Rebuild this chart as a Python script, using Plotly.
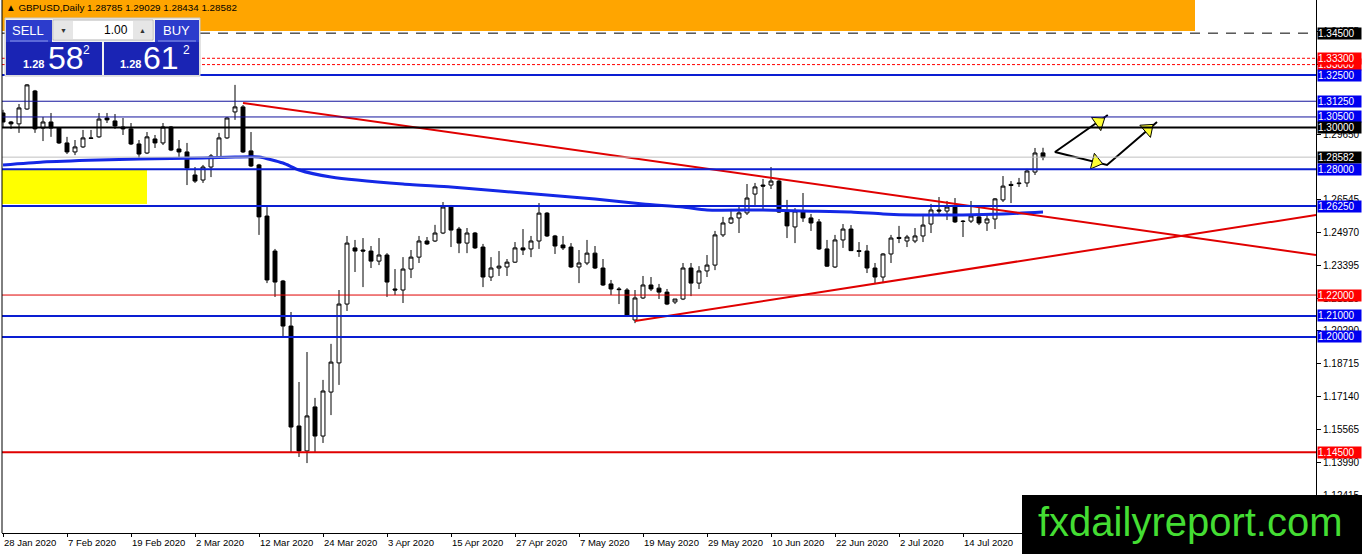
import pandas as pd
import plotly.graph_objects as go

# GBPUSD daily bars, 28 Jan 2020 .. 28 Jul 2020 (weekdays)
dates = pd.bdate_range("2020-01-28", "2020-07-28")
bars = list(range(len(dates)))

opens = [1.3069, 1.3026, 1.3017, 1.3088, 1.3174, 1.2997, 1.3026, 1.2997, 1.2926, 1.2883,
         1.2907, 1.2950, 1.2955, 1.3045, 1.3031, 1.3002, 1.2993, 1.2921, 1.2878, 1.2945,
         1.2926, 1.3002, 1.2897, 1.2883, 1.2773, 1.2749, 1.2811, 1.2859, 1.2950, 1.3074,
         1.3098, 1.2888, 1.2821, 1.2577, 1.2410, 1.2267, 1.2052, 1.1575, 1.1456, 1.1666,
         1.1527, 1.1737, 1.1876, 1.2157, 1.2425, 1.2415, 1.2410, 1.2362, 1.2391, 1.2229,
         1.2224, 1.2324, 1.2381, 1.2458, 1.2458, 1.2496, 1.2620, 1.2515, 1.2448, 1.2496,
         1.2429, 1.2286, 1.2329, 1.2334, 1.2357, 1.2425, 1.2420, 1.2458, 1.2591, 1.2482,
         1.2439, 1.2429, 1.2334, 1.2353, 1.2400, 1.2329, 1.2253, 1.2229, 1.2224, 1.2081,
         1.2186, 1.2248, 1.2233, 1.2214, 1.2167, 1.2181, 1.2329, 1.2257, 1.2315, 1.2343,
         1.2487, 1.2544, 1.2568, 1.2592, 1.2682, 1.2725, 1.2725, 1.2744, 1.2596, 1.2525,
         1.2601, 1.2568, 1.2549, 1.2420, 1.2334, 1.2463, 1.2515, 1.2412, 1.2410, 1.2329,
         1.2286, 1.2396, 1.2475, 1.2458, 1.2458, 1.2482, 1.2539, 1.2606, 1.2601, 1.2620,
         1.2553, 1.2553, 1.2573, 1.2544, 1.2563, 1.2654, 1.2728, 1.2735, 1.2735, 1.2787,
         1.28785]
highs = [1.3084, 1.3031, 1.3112, 1.3207, 1.3179, 1.3050, 1.3069, 1.3002, 1.2955, 1.2940,
         1.2988, 1.2988, 1.3069, 1.3069, 1.3064, 1.3045, 1.3021, 1.2940, 1.2978, 1.2964,
         1.3021, 1.3007, 1.2940, 1.2926, 1.2811, 1.2821, 1.2873, 1.2974, 1.3050, 1.3203,
         1.3107, 1.2978, 1.2826, 1.2620, 1.2420, 1.2272, 1.2119, 1.1785, 1.1928, 1.1709,
         1.1795, 1.1967, 1.2224, 1.2482, 1.2463, 1.2472, 1.2434, 1.2472, 1.2400, 1.2324,
         1.2381, 1.2415, 1.2482, 1.2477, 1.2535, 1.2644, 1.2630, 1.2525, 1.2520, 1.2501,
         1.2444, 1.2381, 1.2410, 1.2372, 1.2453, 1.2515, 1.2482, 1.2639, 1.2596, 1.2487,
         1.2482, 1.2448, 1.2415, 1.2463, 1.2434, 1.2372, 1.2272, 1.2238, 1.2233, 1.2224,
         1.2291, 1.2286, 1.2253, 1.2229, 1.2181, 1.2353, 1.2353, 1.2338, 1.2391, 1.2506,
         1.2573, 1.2611, 1.2620, 1.2730, 1.2735, 1.2754, 1.2811, 1.2749, 1.2654, 1.2615,
         1.2687, 1.2587, 1.2563, 1.2463, 1.2487, 1.2539, 1.2534, 1.2453, 1.2439, 1.2353,
         1.2400, 1.2487, 1.2530, 1.2487, 1.2520, 1.2587, 1.2635, 1.2668, 1.2649, 1.2663,
         1.2558, 1.2649, 1.2615, 1.2587, 1.2663, 1.2768, 1.2744, 1.2759, 1.2802, 1.2902,
         1.29029]
lows = [1.2998, 1.2993, 1.2974, 1.3084, 1.2974, 1.2935, 1.2955, 1.2921, 1.2873, 1.2868,
        1.2902, 1.2945, 1.2950, 1.3021, 1.2993, 1.2964, 1.2916, 1.2854, 1.2873, 1.2902,
        1.2916, 1.2887, 1.2854, 1.2725, 1.2735, 1.2735, 1.2763, 1.2854, 1.2945, 1.3036,
        1.2878, 1.2811, 1.2487, 1.2257, 1.2191, 1.2000, 1.1446, 1.1427, 1.1398, 1.1446,
        1.1494, 1.1627, 1.1771, 1.2124, 1.2310, 1.2238, 1.2329, 1.2343, 1.2191, 1.2200,
        1.2162, 1.2281, 1.2353, 1.2439, 1.2453, 1.2491, 1.2429, 1.2400, 1.2400, 1.2420,
        1.2238, 1.2267, 1.2291, 1.2291, 1.2353, 1.2391, 1.2381, 1.2420, 1.2477, 1.2396,
        1.2415, 1.2329, 1.2257, 1.2343, 1.2324, 1.2243, 1.2200, 1.2157, 1.2095, 1.2066,
        1.2181, 1.2219, 1.2181, 1.2152, 1.2157, 1.2176, 1.2195, 1.2229, 1.2286, 1.2319,
        1.2477, 1.2539, 1.2496, 1.2582, 1.2630, 1.2606, 1.2706, 1.2592, 1.2472, 1.2448,
        1.2549, 1.2506, 1.2415, 1.2334, 1.2329, 1.2425, 1.2410, 1.2382, 1.2305, 1.2257,
        1.2257, 1.2353, 1.2448, 1.2429, 1.2448, 1.2453, 1.2496, 1.2587, 1.2558, 1.2544,
        1.2477, 1.2544, 1.2534, 1.2506, 1.2515, 1.2644, 1.2639, 1.2716, 1.2716, 1.2773,
        1.28434]
closes = [1.3026, 1.3017, 1.3093, 1.3203, 1.2993, 1.3026, 1.2997, 1.2926, 1.2883, 1.2907,
          1.2950, 1.2948, 1.3040, 1.3036, 1.3007, 1.2993, 1.2921, 1.2873, 1.2955, 1.2926,
          1.3002, 1.2892, 1.2883, 1.2806, 1.2744, 1.2811, 1.2864, 1.2950, 1.3045, 1.3098,
          1.2883, 1.2816, 1.2573, 1.2272, 1.2262, 1.2052, 1.1570, 1.1456, 1.1623, 1.1527,
          1.1742, 1.1880, 1.2157, 1.2448, 1.2410, 1.2410, 1.2362, 1.2391, 1.2262, 1.2224,
          1.2324, 1.2381, 1.2458, 1.2444, 1.2496, 1.2620, 1.2510, 1.2448, 1.2496, 1.2425,
          1.2286, 1.2329, 1.2338, 1.2357, 1.2425, 1.2415, 1.2458, 1.2591, 1.2482, 1.2434,
          1.2425, 1.2334, 1.2353, 1.2400, 1.2329, 1.2248, 1.2229, 1.2226, 1.2100, 1.2186,
          1.2248, 1.2229, 1.2214, 1.2157, 1.2181, 1.2329, 1.2257, 1.2315, 1.2343, 1.2487,
          1.2544, 1.2568, 1.2592, 1.2663, 1.2716, 1.2720, 1.2744, 1.2596, 1.2530, 1.2601,
          1.2568, 1.2544, 1.2420, 1.2338, 1.2463, 1.2515, 1.2412, 1.2408, 1.2329, 1.2286,
          1.2396, 1.2472, 1.2470, 1.2477, 1.2482, 1.2534, 1.2606, 1.2601, 1.2620, 1.2549,
          1.2551, 1.2577, 1.2544, 1.2563, 1.2659, 1.2720, 1.2723, 1.2732, 1.2792, 1.2878,
          1.28582]

# moving average at some bars
ma_bars = [0, 5, 12, 17, 25, 29, 32, 35, 37, 41, 50, 56, 62, 68, 74, 80, 85, 88, 95,
           100, 106, 110, 114, 120, 125, 130]
ma_vals = [1.28207, 1.28350, 1.28446, 1.28493, 1.28541, 1.28589, 1.28589, 1.28302, 1.27968,
           1.27634, 1.27300, 1.27157, 1.26966, 1.26775, 1.26584, 1.26346, 1.26203, 1.26059,
           1.26059, 1.26012, 1.25964, 1.25869, 1.25821, 1.25821, 1.25869, 1.25964]

# horizontal levels drawn on the chart
level_prices = [1.3450, 1.3300, 1.3330, 1.3250, 1.3125, 1.3050, 1.3000, 1.2800, 1.2625,
                1.2200, 1.2100, 1.2000, 1.1450]
bid = 1.28582
title_ohlc = [1.28785, 1.29029, 1.28434, 1.28582]

# trend lines (bar, price)
trend_down = ([30, 164.125], [1.31166, 1.23911])
trend_up = ([79, 164.125], [1.20761, 1.25821])
# arrow drawing
arrow_x = [138.1, 131.5, 138.0, 144.25]
arrow_y = [1.30594, 1.28828, 1.28207, 1.30259]
head_x = [137.0, 136.6, 143.1]
head_y = [1.30259, 1.28350, 1.29925]
head_angle = [55, 104, 49]

# zones
yellow_zone = ([-0.125, 18], [1.26346, 1.27968])
orange_zone = ([-0.125, 149], [1.34603, 1.3608])

axis_ticks = [1.34575, 1.33000, 1.29650, 1.26545, 1.24970, 1.23395, 1.21820, 1.20290,
              1.18715, 1.17140, 1.15565, 1.13990, 1.12415]

# styles
FONT = "Liberation Sans"
BLUE = "#0a1ed2"
NAVY = "#14149c"
RED = "#e00000"
level_style = {
    1.3450: ("#000000", 1, "10px,8px", "#000000"),
    1.3330: ("#ff0000", 1, "3px,2px", "#ff0000"),
    1.3300: ("#ff0000", 1, "3px,2px", "#ff0000"),
    1.3250: (BLUE, 2, "solid", "#0000f0"),
    1.3125: (NAVY, 1, "solid", "#0000f0"),
    1.3050: (NAVY, 1, "solid", "#0000f0"),
    1.3000: ("#000000", 2, "solid", "#000000"),
    1.2800: (BLUE, 2, "solid", "#0000f0"),
    1.2625: (BLUE, 2, "solid", "#0000f0"),
    1.2200: (RED, 1, "solid", "#ff0000"),
    1.2100: (BLUE, 2, "solid", "#0000f0"),
    1.2000: (BLUE, 2, "solid", "#0000f0"),
    1.1450: (RED, 2, "solid", "#ff0000"),
}

W, H = 1362, 554
ML, MR, MT, MB = 2, 46, 0, 21
PW, PH = W - ML - MR, H - MT - MB


def fx(px):
    return (px - ML) / PW


def fy(py):
    return 1 - (py - MT) / PH


shapes = []
annotations = []


def prect(x0, y0, x1, y1, fill, line=None):
    shapes.append(dict(type="rect", xref="paper", yref="paper", x0=fx(x0), x1=fx(x1),
                       y0=fy(y1), y1=fy(y0), fillcolor=fill, layer="above",
                       line=dict(width=1 if line else 0, color=line or fill)))


def ptext(x, y, text, size, color, anchor="center", family=FONT):
    annotations.append(dict(xref="paper", yref="paper", x=fx(x), y=fy(y), text=text,
                            showarrow=False, xanchor=anchor, yanchor="middle",
                            font=dict(family=family, size=size, color=color)))


fig = go.Figure()

fig.add_trace(go.Candlestick(
    x=bars, open=opens, high=highs, low=lows, close=closes,
    increasing=dict(line=dict(color="black", width=1), fillcolor="white"),
    decreasing=dict(line=dict(color="black", width=1), fillcolor="black"),
    whiskerwidth=0, showlegend=False, hoverinfo="skip"))

fig.add_trace(go.Scatter(x=ma_bars, y=ma_vals, mode="lines",
                         line=dict(color="#1428e6", width=3, shape="spline", smoothing=0.6),
                         showlegend=False, hoverinfo="skip"))

for tx, ty in (trend_down, trend_up):
    fig.add_trace(go.Scatter(x=tx, y=ty, mode="lines", line=dict(color=RED, width=2),
                             showlegend=False, hoverinfo="skip"))

fig.add_trace(go.Scatter(x=arrow_x, y=arrow_y, mode="lines",
                         line=dict(color="black", width=2), showlegend=False, hoverinfo="skip"))
fig.add_trace(go.Scatter(x=head_x, y=head_y, mode="markers",
                         marker=dict(symbol="triangle-up", angle=head_angle, size=14,
                                     color="#ffff33", line=dict(color="black", width=1)),
                         showlegend=False, hoverinfo="skip"))

# zones
shapes.append(dict(type="rect", xref="x", yref="y", x0=yellow_zone[0][0], x1=yellow_zone[0][1],
                   y0=yellow_zone[1][0], y1=yellow_zone[1][1], fillcolor="#ffff00",
                   line=dict(width=0), layer="below"))
shapes.append(dict(type="rect", xref="x", yref="y", x0=orange_zone[0][0], x1=orange_zone[0][1],
                   y0=orange_zone[1][0], y1=orange_zone[1][1], fillcolor="#ffa500",
                   line=dict(width=0), layer="below"))

# level lines + price boxes on the right axis
shapes.append(dict(type="line", xref="paper", yref="y", x0=0, x1=1, y0=bid, y1=bid,
                   line=dict(color="#c0c0c0", width=1), layer="above"))
for p in level_prices:
    col, lw, dash, box = level_style[p]
    shapes.append(dict(type="line", xref="paper", yref="y", x0=0, x1=1, y0=p, y1=p,
                       line=dict(color=col, width=lw, dash=dash), layer="above"))
box_list = [(p, level_style[p][3]) for p in level_prices[:7]] + [(bid, "#000000")] + \
           [(p, level_style[p][3]) for p in level_prices[7:]]
for p, box in box_list:
    annotations.append(dict(xref="paper", yref="y", x=fx(1317), y=p, text=f"{p:.5f}",
                            showarrow=False, xanchor="left", yanchor="middle", bgcolor=box,
                            width=43, height=11, borderpad=0, align="left",
                            font=dict(family=FONT, size=10, color="white")))

# left border
shapes.append(dict(type="line", xref="paper", yref="paper", x0=0, x1=0, y0=0, y1=1,
                   line=dict(color="black", width=1), layer="above"))

# date labels, left aligned like MT4
tick_bars = bars[::8]
for b in tick_bars:
    d = dates[b]
    annotations.append(dict(xref="x", yref="paper", x=b, y=0, yshift=-2, text=f"{d.day} {d.strftime('%b %Y')}",
                            showarrow=False, xanchor="left", yanchor="top", xshift=-1,
                            font=dict(family=FONT, size=9.5, color="black")))

# chart header
ptext(4, 8, "\u25b2 GBPUSD,Daily " + " ".join(f"{v:.5f}" for v in title_ohlc), 9.8, "black",
      anchor="left")

# one-click trading panel
prect(5, 18, 200, 76, "#f0f0f0", "#c8c8c8")
prect(6, 20, 52, 42, "#2c3ccc")
prect(155, 20, 199, 42, "#2c3ccc")
prect(53, 20, 153, 40, "white", "#b4b4b4")
prect(54, 21, 73, 39, "#e6e6e6")
prect(133, 21, 152, 39, "#e6e6e6")
prect(6, 42, 102, 75, "#1a24b4")
prect(104, 42, 199, 75, "#1a24b4")
shapes.append(dict(type="line", xref="paper", yref="paper", x0=fx(10), x1=fx(48), y0=fy(41), y1=fy(41),
                   line=dict(color="#8c96e6", width=1), layer="above"))
shapes.append(dict(type="line", xref="paper", yref="paper", x0=fx(158), x1=fx(196), y0=fy(41), y1=fy(41),
                   line=dict(color="#8c96e6", width=1), layer="above"))
ptext(28, 31, "SELL", 13, "white")
ptext(176, 31, "BUY", 13, "white")
ptext(63, 30, "\u25bc", 7, "#333333")
ptext(142, 30, "\u25b2", 7, "#333333")
ptext(130, 30, "1.00", 12, "black", anchor="right")
ptext(33, 64, "<b>1.28</b>", 11, "white")
ptext(66, 58, "58", 32, "white")
ptext(86, 50, "2", 12, "white")
ptext(130, 64, "<b>1.28</b>", 11, "white")
ptext(161, 58, "61", 32, "white")
ptext(186, 50, "2", 12, "white")

# watermark
prect(1022, 495, 1366, 560, "black")
ptext(1190, 522, "fxdailyreport.com", 40, "#44dd33")

fig.update_layout(
    width=W, height=H,
    margin=dict(l=ML, r=MR, t=MT, b=MB),
    paper_bgcolor="white", plot_bgcolor="white",
    showlegend=False,
    shapes=shapes, annotations=annotations,
    xaxis=dict(range=[-0.125, 164.125], showgrid=False, zeroline=False, rangeslider=dict(visible=False),
               showline=True, linecolor="black", linewidth=1, ticks="outside", ticklen=3,
               tickcolor="black", tickvals=tick_bars, showticklabels=False),
    yaxis=dict(range=[1.106423, 1.360824], side="right", showgrid=False, zeroline=False,
               showline=True, linecolor="black", linewidth=1, ticks="outside", ticklen=4,
               tickcolor="black", tickvals=axis_ticks, ticktext=[f"{v:.5f}" for v in axis_ticks],
               tickfont=dict(family=FONT, size=10, color="black")),
)

# the page body has a default 8px margin; drop it so the chart sits at the window origin
fig.write_html("out.html", config={"displayModeBar": False},
               post_script="document.body.style.margin='0px';")
